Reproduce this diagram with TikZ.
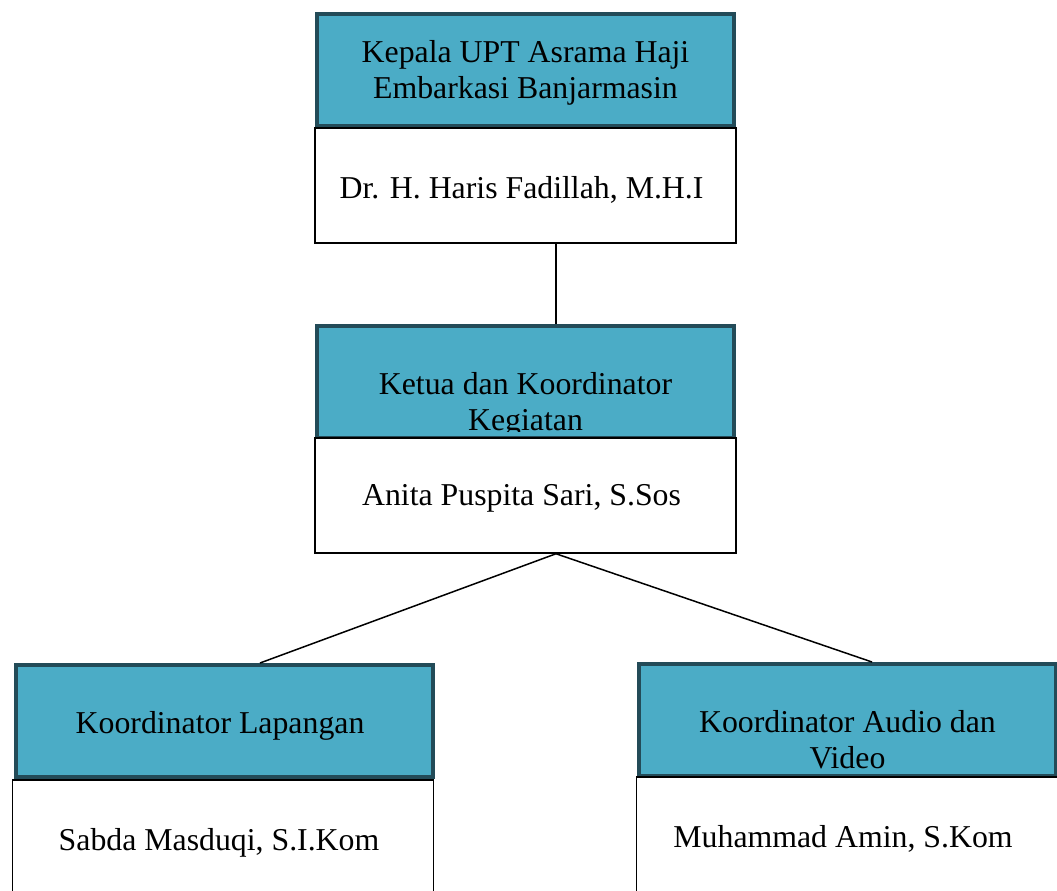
\documentclass[tikz,border=0pt]{standalone}
\usepackage{fontspec}
\setmainfont{Liberation Serif}
\usetikzlibrary{positioning}

\definecolor{headfill}{RGB}{75,172,198}
\definecolor{headline}{RGB}{35,75,88}

\begin{document}
\begin{tikzpicture}[x=1pt, y=-1pt,
    head/.style={
        rectangle,
        draw=headline,
        line width=4pt,
        fill=headfill,
        minimum width=417pt,
        minimum height=112pt,
        inner sep=0pt
    },
    body/.style={
        rectangle,
        draw=black,
        line width=1.5pt,
        fill=white,
        minimum width=421pt,
        minimum height=115pt,
        inner sep=0pt
    },
    title/.style={
        align=center,
        anchor=base,
        inner sep=0pt,
        font=\fontsize{31.8}{36}\selectfont
    },
    link/.style={draw=black, line width=1.5pt}
]

    \useasboundingbox (0,0) rectangle (1057,891);

    % Kepala UPT
    \node (kepala_head) [head] at (525.5, 70) {};
    \node (kepala_title) [title] at (525.5, 99)
    {
        Kepala UPT Asrama Haji\\Embarkasi Banjarmasin
    };
    \node (kepala_body) [body] at (525.5, 185.5) {};
    \node (kepala_name) [title] at (525.5, 198)
    {
        Dr. H. Haris Fadillah, M.H.I
    };

    % Ketua
    \node (ketua_head) [head] at (525.5, 381.5) {};
    \begin{scope}
        \clip (ketua_head.north west) rectangle ([yshift=8pt]ketua_head.south east);
        \node (ketua_title) [title] at (525.5, 430.5)
        {
            Ketua dan Koordinator\\Kegiatan
        };
    \end{scope}
    \node (ketua_body) [body] at (525.5, 495.5) {};
    \node (ketua_name) [title] at (525.5, 505)
    {
        Anita Puspita Sari, S.Sos
    };

    % Koordinator Lapangan
    \node (lapangan_head) [head] at (224, 721) {};
    \node (lapangan_title) [title] at (224, 733)
    {
        Koordinator Lapangan
    };
    \node (lapangan_body) [body] at (223, 837.5) {};
    \node (lapangan_name) [title] at (223, 850)
    {
        Sabda Masduqi, S.I.Kom
    };

    % Koordinator Audio dan Video
    \node (audio_head) [head] at (847.5, 720) {};
    \begin{scope}
        \clip (audio_head.north west) rectangle ([yshift=9pt]audio_head.south east);
        \node (audio_title) [title] at (847.5, 768.5)
        {
            Koordinator Audio dan\\Video
        };
    \end{scope}
    \node (audio_body) [body] at (847, 834.5) {};
    \node (audio_name) [title] at (847, 847)
    {
        Muhammad Amin, S.Kom
    };


    \draw[link] ([xshift=30.5pt]kepala_body.south) to ([xshift=30.5pt]ketua_head.north);
    \draw[link] ([xshift=30.5pt]ketua_body.south) to ([xshift=36pt]lapangan_head.north);
    \draw[link] ([xshift=30.5pt]ketua_body.south) to ([xshift=24.5pt]audio_head.north);

\end{tikzpicture}
\end{document}
